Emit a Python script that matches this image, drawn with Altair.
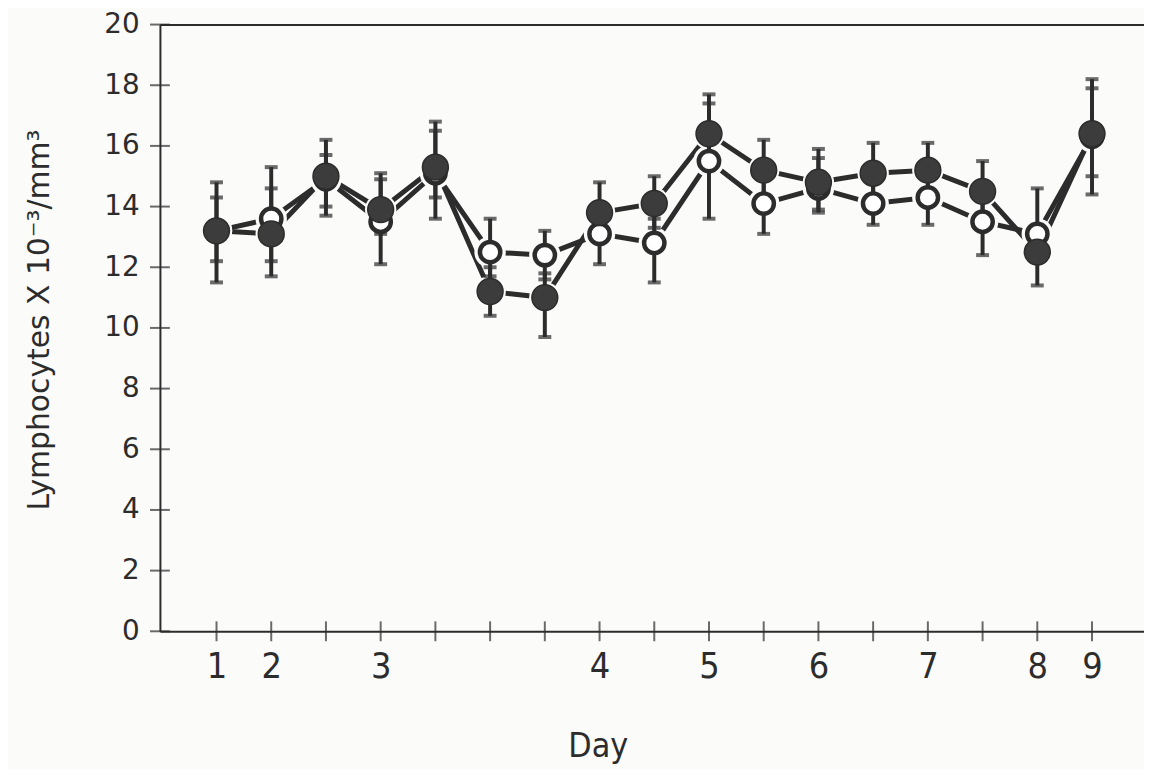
import altair as alt
import pandas as pd

# ---- data ----
positions = list(range(17))  # evenly spaced sampling points along the x axis
filled_mean = [13.2, 13.1, 15.0, 13.9, 15.3, 11.2, 11.0, 13.8, 14.1, 16.4, 15.2, 14.8, 15.1, 15.2, 14.5, 12.5, 16.4]
filled_lo   = [11.5, 11.7, 13.7, 13.1, 13.6, 10.4,  9.7, 13.0, 13.3, 15.2, 14.3, 13.9, 14.2, 14.3, 13.6, 11.4, 14.4]
filled_hi   = [14.8, 14.6, 16.2, 15.1, 16.8, 12.0, 11.8, 14.8, 15.0, 17.7, 16.2, 15.9, 16.1, 16.1, 15.5, 13.4, 18.2]
open_mean   = [13.2, 13.6, 14.9, 13.5, 15.1, 12.5, 12.4, 13.1, 12.8, 15.5, 14.1, 14.6, 14.1, 14.3, 13.5, 13.1, 16.3]
open_lo     = [12.2, 12.2, 14.0, 12.1, 14.3, 11.7, 11.6, 12.1, 11.5, 13.6, 13.1, 13.8, 13.4, 13.4, 12.4, 12.2, 15.0]
open_hi     = [14.3, 15.3, 15.7, 14.9, 16.5, 13.6, 13.2, 13.9, 13.6, 17.4, 15.0, 15.6, 15.0, 15.2, 14.4, 14.6, 17.9]

tick_positions = list(range(17))
day_labels = {0: "1", 1: "2", 3: "3", 7: "4", 9: "5", 11: "6", 13: "7", 15: "8", 16: "9"}
y_ticks = [0, 2, 4, 6, 8, 10, 12, 14, 16, 18, 20]

rows = []
for i, p in enumerate(positions):
    rows.append({"pos": p, "series": "filled", "mean": filled_mean[i], "lo": filled_lo[i], "hi": filled_hi[i]})
    rows.append({"pos": p, "series": "open", "mean": open_mean[i], "lo": open_lo[i], "hi": open_hi[i]})
df = pd.DataFrame(rows)

label_expr = "".join(f"datum.value == {k} ? '{v}' : " for k, v in day_labels.items()) + "''"

INK = "#2c2c2c"
BG = "#fbfbfa"
NARROW = "Liberation Sans Narrow, DejaVu Sans Condensed, Arial Narrow, sans-serif"

X_MIN, X_MAX = -1.034, 16.95
Y_MIN, Y_MAX = 0, 20
xscale = alt.Scale(domain=[X_MIN, X_MAX], nice=False, zero=False)
yscale = alt.Scale(domain=[Y_MIN, Y_MAX], nice=False, zero=False)

x_axis_bottom = alt.Axis(
    values=tick_positions, labelExpr=label_expr, ticks=False,
    domainColor=INK, domainWidth=2,
    labelFont=NARROW, labelFontSize=36, labelColor=INK, labelPadding=19,
    labelFlush=False, labelOverlap=False, grid=False,
    title="Day", titleFont=NARROW, titleFontSize=34, titleFontWeight="normal",
    titleColor=INK, titleX=441, titleY=126, titleAnchor=None, titleAlign="center",
    titleBaseline="alphabetic",
)
x_axis_top = alt.Axis(orient="top", labels=False, ticks=False, domain=True,
                      domainColor=INK, domainWidth=2, grid=False, title=None)
y_axis = alt.Axis(
    values=y_ticks, ticks=False,
    domainColor=INK, domainWidth=2, labelFont="DejaVu Sans", labelFontSize=28,
    labelColor=INK, labelPadding=21, grid=False, labelFlush=False,
    title="Lymphocytes  X 10⁻³/mm³", titleFont="DejaVu Sans", titleFontSize=30,
    titleFontWeight="normal", titleColor=INK, titleAngle=-90,
    titleX=-121, titleY=297, titleAlign="center", titleBaseline="middle",
)

base = alt.Chart(df)

def X(axis=None, field="pos:Q"):
    return alt.X(field, scale=xscale, axis=axis)

def Y(field="mean:Q"):
    return alt.Y(field, scale=yscale, axis=y_axis)

lines = base.mark_line(color=INK, strokeWidth=5).encode(
    x=X(x_axis_bottom), y=Y(), detail="series:N"
)
halo = base.mark_circle(color=BG, size=1000, opacity=1).encode(
    x=X(x_axis_top), y=Y()
)
err = base.mark_rule(color=INK, strokeWidth=4).encode(
    x=X(), y=Y("lo:Q"), y2="hi:Q"
)
cap_lo = base.mark_tick(color=INK, orient="horizontal", size=13, thickness=4).encode(
    x=X(), y=Y("lo:Q")
)
cap_hi = base.mark_tick(color=INK, orient="horizontal", size=13, thickness=4).encode(
    x=X(), y=Y("hi:Q")
)
open_pts = base.transform_filter(alt.datum.series == "open").mark_point(
    shape="circle", filled=True, fill="white", stroke=INK, strokeWidth=4.5, size=420, opacity=1
).encode(x=X(), y=Y())
filled_pts = base.transform_filter(alt.datum.series == "filled").mark_point(
    shape="circle", filled=True, fill="#3c3c3c", stroke=INK, strokeWidth=1.5, size=680, opacity=1
).encode(x=X(), y=Y())

# axis tick marks that cross the axis lines
y_tick_marks = alt.Chart(pd.DataFrame({"v": y_ticks})).mark_tick(
    color=INK, orient="horizontal", size=20, thickness=2
).encode(x=alt.X("xm:Q", scale=xscale, axis=None), y=alt.Y("v:Q", scale=yscale, axis=y_axis)
).transform_calculate(xm=str(X_MIN))
x_tick_marks = alt.Chart(pd.DataFrame({"t": tick_positions})).mark_tick(
    color=INK, orient="vertical", size=20, thickness=2
).encode(x=alt.X("t:Q", scale=xscale, axis=None), y=alt.Y("ym:Q", scale=yscale, axis=y_axis)
).transform_calculate(ym=str(Y_MIN))

chart = alt.layer(lines, halo, err, cap_lo, cap_hi, open_pts, filled_pts,
                  y_tick_marks, x_tick_marks).resolve_axis(
    x="independent"
).properties(
    width=991, height=611,
    autosize=alt.AutoSizeParams(type="none"),
    padding={"left": 153, "top": 14, "right": 0, "bottom": 136},
    background=BG,
).configure_view(stroke=None)

chart.save("out.html", embed_options={"renderer": "svg", "actions": False})
